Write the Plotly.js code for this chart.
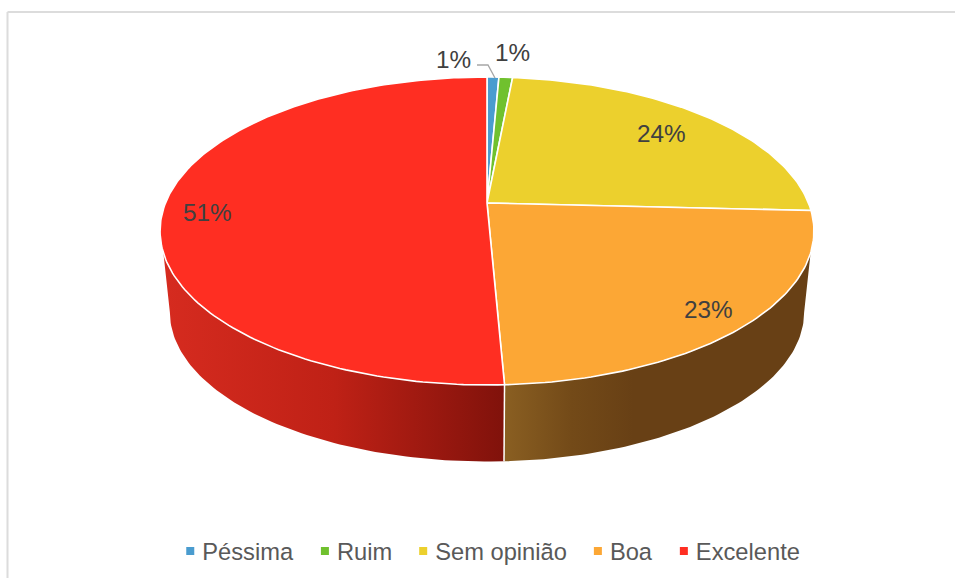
<!DOCTYPE html>
<html><head><meta charset="utf-8">
<script src="https://cdn.plot.ly/plotly-3.0.1.min.js"></script>
<style>html,body{margin:0;padding:0;background:#fff}#c{width:955px;height:578px}</style>
</head><body><div id="c"></div>
<script>
const categories = ['Péssima','Ruim','Sem opinião','Boa','Excelente'];
const values = [0.7,0.8,24.3,23.49,50.71];
const colors = ['#4a9ccf','#70c12e','#ecd02d','#fca735','#ff2e22'];

// projected disc geometry, in plot units
const CX=487, TOP_Y=203, BOT_Y=285, AY=148.9, AX=321.5, B=0.1818, S=0.97;
function rim(deg, base, s){
  const t=deg*Math.PI/180, u=Math.sin(t), v=-Math.cos(t), d=1-B*v;
  return [CX+s*AX*u/d, base+s*AY*v/d];
}
function arc(a0,a1,base,s){
  const xs=[],ys=[],n=Math.max(2,Math.ceil(Math.abs(a1-a0)));
  for(let i=0;i<=n;i++){const p=rim(a0+(a1-a0)*i/n,base,s);xs.push(p[0]);ys.push(p[1]);}
  return [xs,ys];
}
const total=values.reduce((a,b)=>a+b,0);
const starts=[];let acc=0;
values.forEach(v=>{starts.push(acc/total*360);acc+=v;});
const ends=values.map((v,i)=>starts[i]+v/total*360);

function wall(a0,a1,b0,b1,name,scale){
  const top=arc(a0,a1,TOP_Y,1), bot=arc(b1,b0,BOT_Y,S);
  return {type:'scatter',mode:'lines',x:top[0].concat(bot[0],[top[0][0]]),y:top[1].concat(bot[1],[top[1][0]]),
    fill:'toself',line:{color:'rgba(0,0,0,0)',width:0},fillgradient:{type:'horizontal',colorscale:scale},
    showlegend:false,name:name,hoverinfo:'name'};
}
const boa=3, exc=4;
const traces=[
  wall(ends[boa],251.55,ends[boa],259.5,categories[exc],[[0,'#d62b1f'],[0.5,'#bf2116'],[1,'#80120b']]),
  wall(108.45,ends[boa],100.5,ends[boa],categories[boa],[[0,'#8a5f22'],[0.22,'#734a18'],[0.42,'#684015'],[1,'#684015']])
];
// divider between the two wall pieces
const dTop=rim(ends[boa],TOP_Y,1), dBot=rim(ends[boa],BOT_Y,S);
traces.push({type:'scatter',mode:'lines',x:[dTop[0],dBot[0]],y:[dTop[1],dBot[1]],line:{color:'#fff',width:1.5},showlegend:false,hoverinfo:'skip'});
// top face slices
categories.forEach((c,i)=>{
  const a=arc(starts[i],ends[i],TOP_Y,1);
  traces.push({type:'scatter',mode:'lines',x:[CX].concat(a[0],[CX]),y:[TOP_Y].concat(a[1],[TOP_Y]),fill:'toself',fillcolor:colors[i],
    line:{color:'#fff',width:1.6},showlegend:false,name:c,hoverinfo:'name'});
});
// legend entries
categories.forEach((c,i)=>{
  traces.push({type:'scatter',mode:'markers',x:[null],y:[null],name:c,marker:{symbol:'square',size:8,color:colors[i]},showlegend:true,hoverinfo:'skip'});
});
const labelPos=[[453,59],[512,52],[661.5,133],[708,309],[207.5,212]];
const annotations=values.map((v,i)=>({x:labelPos[i][0],y:labelPos[i][1],xref:'x',yref:'y',text:Math.round(v)+'%',showarrow:false,
  font:{family:'"Liberation Sans",Arial,sans-serif',size:24.3,color:'#404040'}}));
const layout={
  width:955,height:578,margin:{l:0,r:0,t:0,b:0},paper_bgcolor:'#fff',plot_bgcolor:'#fff',
  xaxis:{range:[0,955],visible:false,fixedrange:true},
  yaxis:{range:[578,0],visible:false,fixedrange:true},
  annotations:annotations,
  shapes:[
    {type:'line',xref:'x',yref:'y',x0:7.5,y0:12,x1:955,y1:12,line:{color:'#dcdcdc',width:2}},
    {type:'line',xref:'x',yref:'y',x0:7.5,y0:12,x1:7.5,y1:578,line:{color:'#dcdcdc',width:2}},
    {type:'path',xref:'x',yref:'y',path:'M477 65 L488 65 L495 78',line:{color:'#a6a6a6',width:1.3},layer:'above'}
  ],
  legend:{orientation:'h',x:0.5076,xanchor:'center',y:0.0465,yanchor:'middle',itemclick:false,itemdoubleclick:false,indentation:-2,
    font:{family:'"Liberation Sans",Arial,sans-serif',size:23.7,color:'#595959'},bgcolor:'rgba(0,0,0,0)'},
  showlegend:true
};
Plotly.newPlot('c',traces,layout,{displayModeBar:false}).then(function(){
  // bring the legend swatches closer to their labels
  document.querySelectorAll('.legend .legendsymbols').forEach(function(g){g.setAttribute('transform','translate(8,0)');});
});
</script></body></html>
